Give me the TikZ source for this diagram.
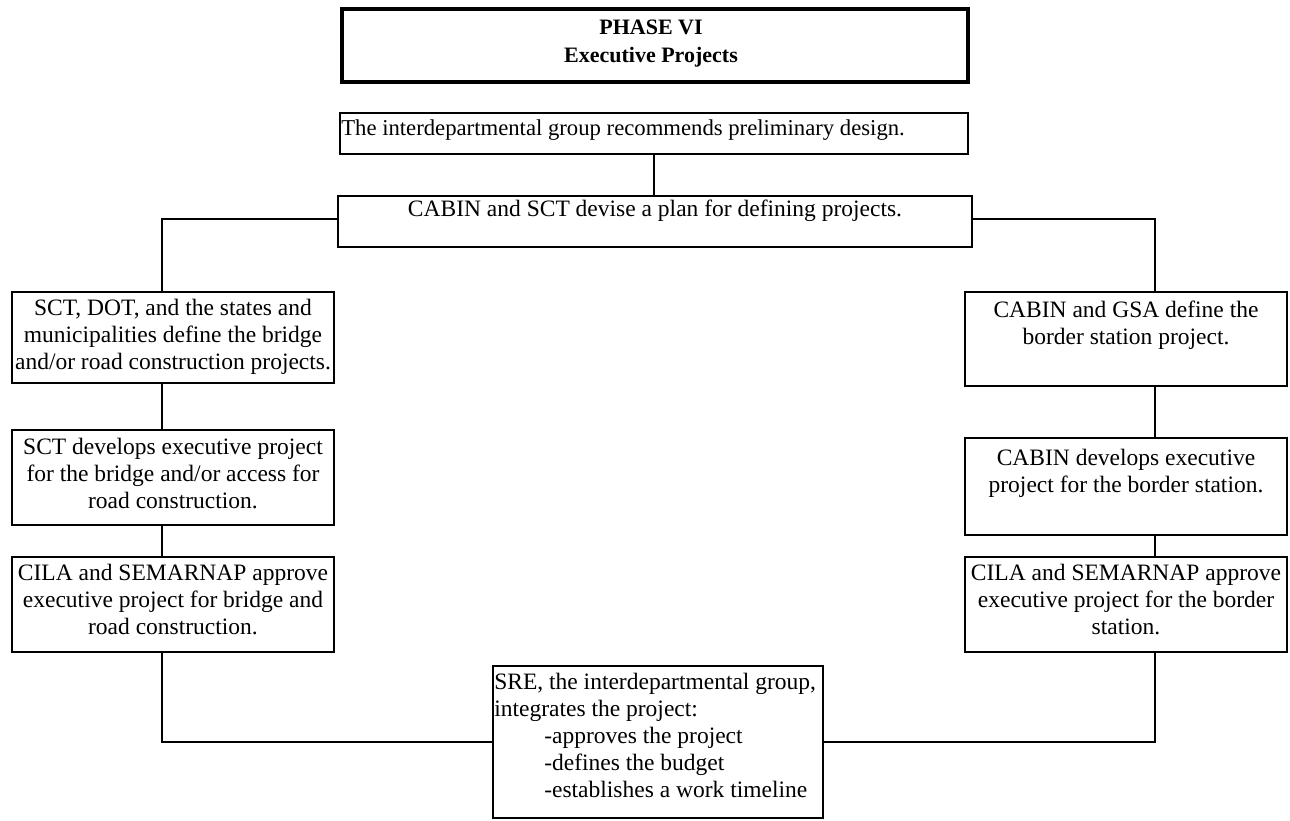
\documentclass[tikz,border=0pt]{standalone}
\usepackage{fontspec}
\setmainfont{Liberation Serif}
\usetikzlibrary{positioning}

\tikzset{
    flowbox/.style={draw, line width=1.8pt, inner sep=0pt},
    titlebox/.style={draw, line width=4.5pt, inner sep=0pt},
    boxtext/.style={align=center, inner sep=0pt, font=\fontsize{23.5}{27}\selectfont},
    link/.style={line width=1.8pt}
}

\begin{document}
\begin{tikzpicture}[x=1pt, y=-1pt]
    \useasboundingbox (0,0) rectangle (1290,820);

    % Title
    \node[titlebox, minimum width=626, minimum height=73] (title) at (655,45.5) {};
    \node[boxtext, font=\bfseries\fontsize{22}{28}\selectfont, anchor=north] (titletext) at ([xshift=-4pt,yshift=-13pt]title.north) {PHASE VI\\Executive Projects};

    % Top boxes
    \node[flowbox, minimum width=628, minimum height=41] (design) at (654,133.5) {};
    \node[boxtext, anchor=north west, font=\fontsize{22.7}{27}\selectfont] (designtext) at ([xshift=2pt,yshift=-7pt]design.north west) {The interdepartmental group recommends preliminary design.};
    \node[flowbox, minimum width=634, minimum height=51] (plan) at (655,221.5) {};
    \node[boxtext, below=5pt of plan.north] (plantext) {CABIN and SCT devise a plan for defining projects.};

    % Left column
    \node[flowbox, minimum width=322, minimum height=91] (lA) at (173,337.5) {};
    \node[boxtext, below=8pt of lA.north] (lAtext) {SCT, DOT, and the states and\\municipalities define the bridge\\and/or road construction projects.};
    \node[flowbox, minimum width=322, minimum height=95] (lB) at (173,477.5) {};
    \node[boxtext, below=9pt of lB.north] (lBtext) {SCT develops executive project\\for the bridge and/or access for\\road construction.};
    \node[flowbox, minimum width=322, minimum height=95] (lC) at (173,604.5) {};
    \node[boxtext, below=8pt of lC.north] (lCtext) {CILA and SEMARNAP approve\\executive project for bridge and\\road construction.};

    % Right column
    \node[flowbox, minimum width=322, minimum height=94] (rA) at (1126,339) {};
    \node[boxtext, below=10pt of rA.north] (rAtext) {CABIN and GSA define the\\border station project.};
    \node[flowbox, minimum width=322, minimum height=97] (rB) at (1126,486.5) {};
    \node[boxtext, below=12pt of rB.north] (rBtext) {CABIN develops executive\\project for the border station.};
    \node[flowbox, minimum width=322, minimum height=95] (rC) at (1126,604.5) {};
    \node[boxtext, below=8pt of rC.north] (rCtext) {CILA and SEMARNAP approve\\executive project for the border\\station.};

    % Final box
    \node[flowbox, minimum width=330, minimum height=152] (sre) at (658,742) {};
    \node[boxtext, align=left, anchor=north west] (sretext) at ([xshift=2pt,yshift=-8pt]sre.north west) {SRE, the interdepartmental group,\\integrates the project:\\\hspace*{50pt}-approves the project\\\hspace*{50pt}-defines the budget\\\hspace*{50pt}-establishes a work timeline};

    % Connectors
    \draw[link] (design.south) -- (design.south |- plan.north);
    \draw[link] ([yshift=2.5pt]plan.west) -| ([xshift=-11pt]lA.north);
    \draw[link] ([yshift=2.5pt]plan.east) -| ([xshift=29pt]rA.north);
    \draw[link] ([xshift=-11pt]lA.south) -- ([xshift=-11pt]lB.north);
    \draw[link] ([xshift=-11pt]lB.south) -- ([xshift=-11pt]lC.north);
    \draw[link] ([xshift=29pt]rA.south) -- ([xshift=29pt]rB.north);
    \draw[link] ([xshift=29pt]rB.south) -- ([xshift=29pt]rC.north);
    \draw[link] ([xshift=-11pt]lC.south) |- (sre.west);
    \draw[link] ([xshift=29pt]rC.south) |- (sre.east);
\end{tikzpicture}
\end{document}
